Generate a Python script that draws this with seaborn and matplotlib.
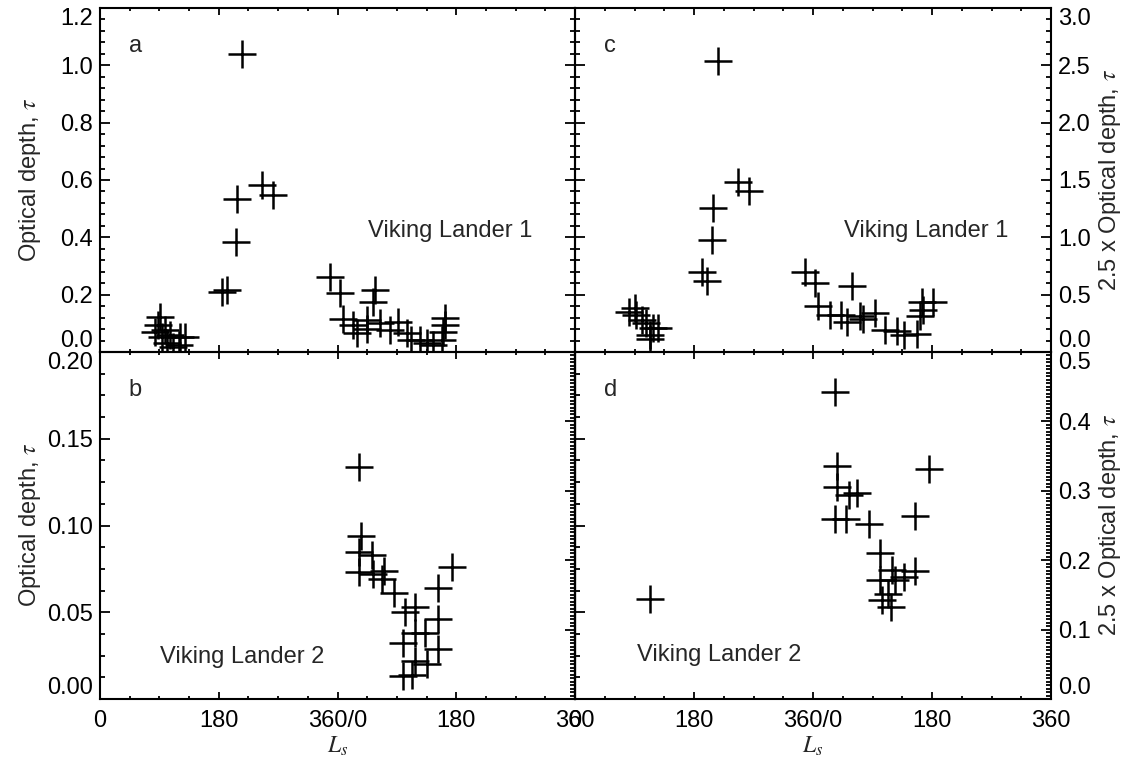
import matplotlib
matplotlib.use("Agg")
import matplotlib.pyplot as plt
import seaborn as sns
from matplotlib.ticker import MultipleLocator, FixedLocator, FormatStrFormatter

# ---- Viking Lander 1: optical depth vs. Ls (two Mars years, 0-720) ----
vl1_ls = [91, 88, 83, 99, 94, 106, 101, 111, 121, 129, 119,
          185, 193, 215, 207, 206, 246, 262,
          348, 364, 369, 384, 389, 404, 404, 417, 414, 424, 440, 452,
          465, 472, 485, 495, 505, 523, 523, 520, 518]
vl1_tau = [0.123, 0.094, 0.071, 0.077, 0.053, 0.059, 0.030, 0.019, 0.053, 0.053, 0.024,
           0.21, 0.215, 1.04, 0.532, 0.382, 0.584, 0.547,
           0.262, 0.207, 0.114, 0.094, 0.065, 0.110, 0.080, 0.216, 0.175, 0.100, 0.077, 0.106,
           0.065, 0.042, 0.042, 0.030, 0.025, 0.117, 0.094, 0.071, 0.042]

# ---- Viking Lander 1: 2.5 x optical depth ----
vl1_ls_c = [91, 81, 93, 101, 108, 118, 126, 113, 113,
            192, 199, 216, 208, 207, 247, 263,
            348, 363, 368, 386, 403, 411, 419, 431, 436, 454,
            469, 487, 497, 517, 525, 542, 527, 522]
vl1_tau_c = [0.38, 0.35, 0.32, 0.28, 0.25, 0.21, 0.21, 0.15, 0.11,
             0.70, 0.62, 2.54, 1.26, 0.98, 1.48, 1.40,
             0.70, 0.60, 0.40, 0.32, 0.32, 0.265, 0.575, 0.31, 0.29, 0.34,
             0.19, 0.18, 0.15, 0.16, 0.44, 0.44, 0.37, 0.31]

# ---- Viking Lander 2: optical depth ----
vl2_ls = [393, 395, 393, 412, 392, 414, 427, 430, 445, 463, 478,
          460, 478, 493, 513, 513, 495, 478, 460, 473, 513, 533]
vl2_tau = [0.134, 0.094, 0.085, 0.083, 0.073, 0.072, 0.069, 0.074, 0.061, 0.050, 0.053,
           0.032, 0.038, 0.038, 0.046, 0.029, 0.020, 0.022, 0.013, 0.014, 0.064, 0.076]

# ---- Viking Lander 2: 2.5 x optical depth ----
vl2_ls_d = [113, 393, 396, 396, 415, 426, 393, 410, 445, 514, 535,
            461, 479, 514, 497, 461, 484, 464, 478, 474]
vl2_tau_d = [0.144, 0.443, 0.336, 0.306, 0.294, 0.297, 0.260, 0.260, 0.252, 0.264, 0.332,
             0.211, 0.186, 0.185, 0.176, 0.171, 0.172, 0.142, 0.133, 0.152]

ls_ticks = [0, 180, 360, 540, 720]
ls_labels = ["0", "180", "360/0", "180", "360"]

sns.set_theme(style="ticks")
plt.rcParams["font.family"] = ["Liberation Sans", "DejaVu Sans"]
plt.rcParams["mathtext.fontset"] = "stix"
plt.rcParams["axes.linewidth"] = 1.5
FS = 17

fig = plt.figure(figsize=(11.33, 7.71), dpi=100)
W, H = 1133, 771


def place(x0, y0, x1, y1):
    return fig.add_axes([x0 / W, 1 - y1 / H, (x1 - x0) / W, (y1 - y0) / H])


ax_a = place(100, 8, 575, 352)
ax_c = place(575, 8, 1051, 352)
ax_b = place(100, 352, 575, 699)
ax_d = place(575, 352, 1051, 699)

panels = [
    (ax_a, vl1_ls, vl1_tau, 1.2, 6, 0.04, "%.1f", "a", "Viking Lander 1", (0.564, 0.352)),
    (ax_c, vl1_ls_c, vl1_tau_c, 3.0, 6, 0.1, "%.1f", "c", "Viking Lander 1", (0.565, 0.352)),
    (ax_b, vl2_ls, vl2_tau, 0.20, 4, 0.0125, "%.2f", "b", "Viking Lander 2", (0.126, 0.121)),
    (ax_d, vl2_ls_d, vl2_tau_d, 0.5, 5, 0.005, "%.1f", "d", "Viking Lander 2", (0.130, 0.127)),
]

for ax, xs, ys, ytop, nmaj, minor, fmt, letter, name, npos in panels:
    ax.set_facecolor("none")
    sns.scatterplot(x=xs, y=ys, marker="+", s=400, color="black",
                    linewidth=1.8, ax=ax, legend=False)
    ax.set_xlim(0, 720)
    yt = [round(ytop * i / nmaj, 6) for i in range(nmaj + 1)]
    ax.yaxis.set_major_locator(FixedLocator(yt))
    ax.yaxis.set_minor_locator(MultipleLocator(minor))
    ax.yaxis.set_major_formatter(FormatStrFormatter(fmt))
    ax.set_ylim(0, ytop)
    ax.xaxis.set_major_locator(FixedLocator(ls_ticks))
    ax.xaxis.set_minor_locator(MultipleLocator(45))
    ax.tick_params(axis="x", which="both", direction="in", top=True, bottom=True,
                   colors="black", labelsize=FS, pad=8)
    ax.tick_params(axis="x", which="major", length=5, width=1.3)
    ax.tick_params(axis="x", which="minor", length=2.5, width=1.3)
    ax.tick_params(axis="y", which="major", length=7, width=1.3)
    ax.tick_params(axis="y", which="minor", length=3.5, width=1.3)
    ax.tick_params(axis="y", which="both", direction="in", labelsize=FS, pad=5,
                   colors="black")
    for sp in ax.spines.values():
        sp.set_visible(True)
        sp.set_color("black")
        sp.set_linewidth(1.5)
    ax.text(0.074, 0.89, letter, transform=ax.transAxes, fontsize=FS,
            ha="center", va="center")
    ax.text(npos[0], npos[1], name, transform=ax.transAxes, fontsize=FS,
            ha="left", va="center")
    ax.set_xlabel("")
    ax.set_ylabel("")

# x tick labels only along the bottom row
for ax in (ax_a, ax_c):
    ax.tick_params(axis="x", labelbottom=False)
for ax in (ax_b, ax_d):
    ax.set_xticks(ls_ticks)
    ax.set_xticklabels(ls_labels)
    ax.set_xlabel(r"$L_s$", fontsize=FS, labelpad=2)

# left column: labels on the left; right column: labels on the right
ax_a.tick_params(axis="y", which="both", left=True, right=True, labelleft=True)
ax_c.tick_params(axis="y", which="both", left=True, right=True,
                 labelleft=False, labelright=True)
ax_b.tick_params(axis="y", which="both", left=True, right=False, labelleft=True)
ax_d.tick_params(axis="y", which="both", left=False, right=True,
                 labelleft=False, labelright=True)

# along the shared edge of the lower row the ticks point outward
sec_b = ax_b.secondary_yaxis("right")
sec_b.yaxis.set_major_locator(MultipleLocator(0.05))
sec_b.yaxis.set_minor_locator(MultipleLocator(0.0125))
sec_b.tick_params(which="both", direction="out", labelright=False, colors="black")
sec_b.tick_params(which="major", length=7, width=1.3)
sec_b.tick_params(which="minor", length=3.5, width=1.3)

sec_d = ax_d.secondary_yaxis("left")
sec_d.yaxis.set_major_locator(MultipleLocator(0.1))
sec_d.yaxis.set_minor_locator(MultipleLocator(0.005))
sec_d.tick_params(which="both", direction="out", labelleft=False, colors="black")
sec_d.tick_params(which="major", length=7, width=1.3)
sec_d.tick_params(which="minor", length=3.5, width=1.3)
for sec in (sec_b, sec_d):
    for sp in sec.spines.values():
        sp.set_linewidth(1.5)
        sp.set_color("black")

# keep the end labels inside their own panel
for ax, side in ((ax_a, 1), (ax_b, 1), (ax_c, 2), (ax_d, 2)):
    lo, hi = ax.get_ylim()
    locs = ax.get_yticks()
    ticks = ax.yaxis.get_major_ticks(len(locs))
    for t, v in zip(ticks, locs):
        lab = t.label1 if side == 1 else t.label2
        if abs(v - lo) < 1e-9:
            lab.set_va("bottom")
        elif abs(v - hi) < 1e-9:
            lab.set_va("top")

# axis titles
left_lab = "Optical depth, " + r"$\tau$"
right_lab = "2.5 x Optical depth, " + r"$\tau$"
fig.text(30 / W, 1 - 180 / H, left_lab, rotation=90, ha="center", va="center", fontsize=FS)
fig.text(30 / W, 1 - 525 / H, left_lab, rotation=90, ha="center", va="center", fontsize=FS)
fig.text(1110 / W, 1 - 180 / H, right_lab, rotation=90, ha="center", va="center", fontsize=FS)
fig.text(1110 / W, 1 - 525 / H, right_lab, rotation=90, ha="center", va="center", fontsize=FS)

fig.savefig("out.png", dpi=100, facecolor="white")
